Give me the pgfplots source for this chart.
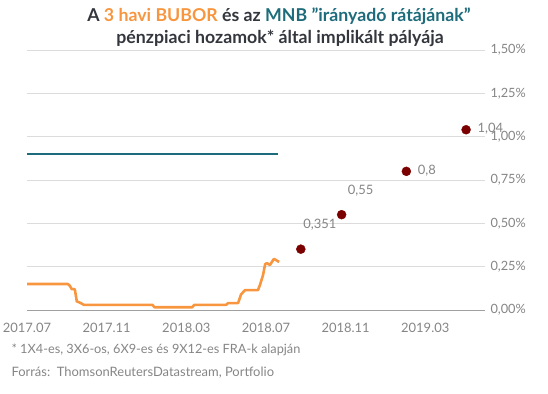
\documentclass[border=0pt]{standalone}
\usepackage{pgfplots}
\pgfplotsset{compat=1.18}
\usepackage{fontspec}
\setmainfont{Lato}
\definecolor{bubor}{HTML}{F7963F}
\definecolor{mnb}{HTML}{1E6C7B}
\definecolor{dotc}{HTML}{7B0000}
\definecolor{titlec}{HTML}{33363D}
\definecolor{lbl}{HTML}{858585}
\definecolor{gridc}{HTML}{DCDCDC}
\definecolor{basec}{HTML}{A0A0A0}
\begin{document}
\begin{tikzpicture}[x=1bp,y=1bp]
\useasboundingbox (0,0) rectangle (548,393);
\node[anchor=base, text=titlec, font=\fontsize{17.8}{17.8}\selectfont\bfseries] at (279,372)
  {A \textcolor{bubor}{3 havi BUBOR} és az \textcolor{mnb}{MNB \symbol{34}irányadó rátájának\symbol{34}}};
\node[anchor=base, text=titlec, font=\fontsize{17.8}{17.8}\selectfont\bfseries] at (280,350)
  {pénzpiaci hozamok* által implikált pályája};
\node[anchor=base west, text=lbl, font=\fontsize{12.8}{12.8}\selectfont] at (8,40)
  {* 1X4-es, 3X6-os, 6X9-es és 9X12-es FRA-k alapján};
\node[anchor=base west, text=lbl, font=\fontsize{13}{13}\selectfont] at (8,17)
  {Forrás:\ \ ThomsonReutersDatastream, Portfolio};
\begin{axis}[
  at={(27bp,83bp)}, anchor=south west, scale only axis,
  width=458bp, height=260bp,
  xmin=0, xmax=23, ymin=0, ymax=1.5,
  clip=false,
  axis line style={draw=none},
  major tick length=0pt,
  ymajorgrids, grid style={gridc, line width=0.8pt},
  ytick={0,0.25,0.5,0.75,1,1.25,1.5},
  yticklabel pos=right,
  yticklabel={\pgfmathprintnumber[assume math mode=true,fixed,fixed zerofill,precision=2,use comma]{\tick}\%},
  yticklabel style={font=\fontsize{12.8}{12.8}\selectfont, text=lbl, anchor=west, xshift=2bp},
  xtick={0,4,8,12,16,20},
  xticklabels={2017.07,2017.11,2018.03,2018.07,2018.11,2019.03},
  xticklabel style={font=\fontsize{13}{13}\selectfont, text=lbl, anchor=north, yshift=-10bp},
]
\draw[basec, line width=1pt] (axis cs:0,0) -- (axis cs:23,0);
\addplot[mnb, line width=2pt] coordinates {(0,0.9) (12.6,0.9)};
\addplot[bubor, line width=2.6pt, line join=round] coordinates {
 (0,0.15) (2.05,0.15) (2.15,0.14) (2.25,0.12) (2.4,0.12) (2.5,0.05) (2.7,0.04) (2.85,0.03)
 (6.3,0.03) (6.4,0.016) (8.3,0.016) (8.4,0.03) (10.0,0.03) (10.1,0.04) (10.6,0.04)
 (10.75,0.09) (10.95,0.115) (11.6,0.115) (11.7,0.145) (11.85,0.2) (11.96,0.265)
 (12.05,0.27) (12.2,0.26) (12.4,0.295) (12.55,0.285) (12.66,0.277)};
\addplot[only marks, mark=*, mark size=4.5bp, dotc, mark options={draw=dotc, fill=dotc},
  point meta=explicit symbolic, nodes near coords,
  every node near coord/.append style={font=\fontsize{13}{13}\selectfont, text=lbl, anchor=center, xshift=19bp, yshift=24bp}]
  table[meta=lab] {
x y lab
13.75 0.351 0,351
15.8 0.55 0,55
};
\addplot[only marks, mark=*, mark size=4.5bp, dotc, mark options={draw=dotc, fill=dotc},
  point meta=explicit symbolic, nodes near coords,
  every node near coord/.append style={font=\fontsize{13}{13}\selectfont, text=lbl, anchor=west, xshift=8bp, yshift=1bp}]
  table[meta=lab] {
x y lab
19.05 0.8 0,8
22.05 1.04 1,04
};
\end{axis}
\end{tikzpicture}
\end{document}
